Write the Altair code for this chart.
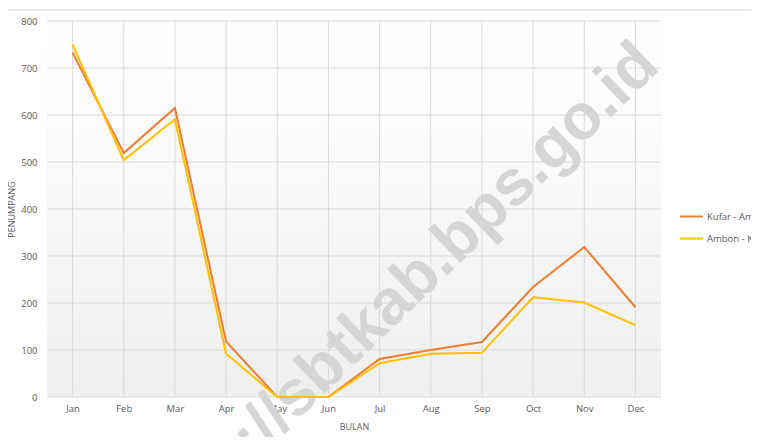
import altair as alt
import pandas as pd

months = ["Jan", "Feb", "Mar", "Apr", "May", "Jun", "Jul", "Aug", "Sep", "Oct", "Nov", "Dec"]
series_names = ["Kufar - Ambon", "Ambon - Kufar"]
kufar_ambon = [733, 519, 615, 118, 0, 0, 81, 100, 117, 234, 319, 191]
ambon_kufar = [750, 504, 591, 92, 0, 0, 72, 92, 94, 212, 201, 153]
y_ticks = [0, 100, 200, 300, 400, 500, 600, 700, 800]
colors = ["#ED7D31", "#FFC000"]
watermark = "https://sbtkab.bps.go.id"

W, H = 614, 376
FONT = "Open Sans"
GREY = "#595959"

rows = []
for name, vals in zip(series_names, [kufar_ambon, ambon_kufar]):
    for m, v in zip(months, vals):
        rows.append({"Bulan": m, "Penumpang": v, "Rute": name})
df = pd.DataFrame(rows)

xscale = alt.Scale(domain=months, type="point", padding=0.5)
yscale = alt.Scale(domain=[0, 800], nice=False)

bg = alt.Chart(alt.Data(values=[{}])).mark_rect(
    fill=alt.Gradient(
        gradient="linear",
        stops=[alt.GradientStop(color="#ffffff", offset=0),
               alt.GradientStop(color="#efefef", offset=1)],
        x1=0, x2=0, y1=0, y2=1,
    )
).encode(x=alt.value(0), x2=alt.value(W), y=alt.value(0), y2=alt.value(H))

topline = alt.Chart(alt.Data(values=[{}])).mark_rule(color="#d9d9d9", strokeWidth=1).encode(
    x=alt.value(-47), x2=alt.value(720), y=alt.value(-11)
)

hgrid = alt.Chart(pd.DataFrame({"v": y_ticks})).mark_rule(color="#d9d9d9", strokeWidth=1).encode(
    y=alt.Y("v:Q", scale=yscale), x=alt.value(0), x2=alt.value(W)
)

vgrid = alt.Chart(pd.DataFrame({"m": months})).mark_rule(color="#d9d9d9", strokeWidth=1).encode(
    x=alt.X("m:N", scale=xscale), y=alt.value(0), y2=alt.value(H)
)

wm = alt.Chart(pd.DataFrame({"t": [watermark]})).mark_text(
    font="Liberation Sans", fontWeight="bold", fontSize=64, color="#d5d5d5",
    angle=316, align="center", baseline="alphabetic"
).encode(text="t:N", x=alt.value(355), y=alt.value(298))

lines = alt.Chart(df).mark_line(strokeWidth=2).encode(
    x=alt.X("Bulan:N", scale=xscale, sort=months,
            axis=alt.Axis(title="BULAN", labelAngle=0, labelAlign="center", ticks=False,
                          domain=False, grid=False,
                          labelFont=FONT, labelFontSize=9.5, labelColor=GREY, labelPadding=11,
                          titleFont=FONT, titleFontSize=9, titleFontWeight="normal",
                          titleColor=GREY, titlePadding=10)),
    y=alt.Y("Penumpang:Q", scale=yscale,
            axis=alt.Axis(title="PENUMPANG", values=y_ticks, ticks=False, domain=False, grid=False,
                          labelFont=FONT, labelFontSize=9.5, labelColor=GREY, labelPadding=10,
                          titleFont=FONT, titleFontSize=9, titleFontWeight="normal",
                          titleColor=GREY, titlePadding=4)),
    color=alt.Color("Rute:N", scale=alt.Scale(domain=series_names, range=colors),
                    sort=series_names,
                    legend=alt.Legend(title=None, orient="none", legendX=632, legendY=183,
                                      symbolType="stroke", symbolSize=529, symbolStrokeWidth=2,
                                      labelFont=FONT, labelFontSize=9.5, labelColor=GREY,
                                      labelOffset=3, rowPadding=5, labelLimit=300)),
)

chart = alt.layer(bg, topline, hgrid, vgrid, wm, lines).properties(
    width=W, height=H,
    autosize=alt.AutoSizeParams(type="none"),
    padding={"left": 39, "top": 13, "right": 90, "bottom": 40},
).configure_view(stroke=None)

chart.save("out.html", embed_options={"renderer": "svg", "actions": False})
